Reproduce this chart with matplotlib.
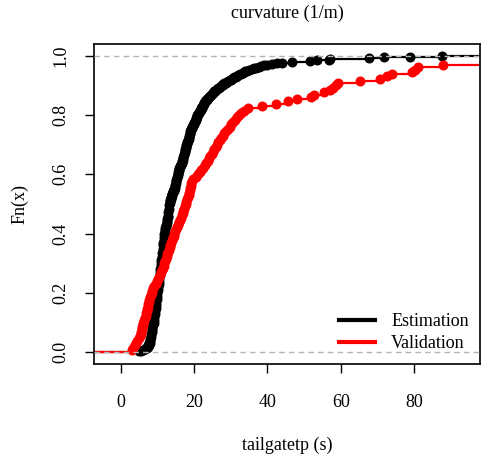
import numpy as np
import matplotlib
matplotlib.use('Agg')
import matplotlib.pyplot as plt
from matplotlib.lines import Line2D

plt.rcParams['font.family'] = ['Liberation Serif', 'DejaVu Serif']

# tailgate times (s)
est_times = [
    4.9, 5.6, 6.2, 6.7,
    6.9, 7.1, 7.3, 7.4, 7.5, 7.6, 7.7, 7.8, 7.9, 8.0,
    8.0, 8.1, 8.1, 8.1, 8.2, 8.2, 8.2, 8.3, 8.3, 8.3, 8.4, 8.4, 8.4,
    8.5, 8.5, 8.5, 8.6, 8.6, 8.6, 8.7, 8.7, 8.7, 8.8, 8.8, 8.9, 9.0,
    9.1, 9.1, 9.1, 9.1, 9.2, 9.2, 9.2, 9.2, 9.3, 9.3, 9.3, 9.3,
    9.4, 9.4, 9.4, 9.4, 9.5, 9.5, 9.5, 9.5, 9.6, 9.6, 9.6, 9.6,
    9.7, 9.7, 9.7, 9.7, 9.8, 9.8, 9.8, 9.8, 9.9, 9.9, 9.9, 9.9,
    10.0, 10.0, 10.0, 10.0, 10.1, 10.1, 10.1, 10.1,
    10.2, 10.2, 10.2, 10.2, 10.3, 10.3, 10.3, 10.3, 10.4, 10.4, 10.4, 10.4,
    10.5, 10.5, 10.5, 10.5, 10.6, 10.6, 10.6, 10.6, 10.7, 10.7, 10.7, 10.7,
    10.8, 10.8, 10.8, 10.8,
    10.9, 10.9, 10.9, 10.9, 11.0, 11.0, 11.0, 11.0, 11.1, 11.1, 11.1, 11.1,
    11.2, 11.2, 11.2, 11.2, 11.2, 11.3, 11.3, 11.3, 11.3, 11.3,
    11.4, 11.4, 11.4, 11.4, 11.4, 11.5, 11.5, 11.5, 11.5, 11.5,
    11.6, 11.6, 11.6, 11.6, 11.7, 11.7, 11.7, 11.7, 11.8, 11.8, 11.8, 11.8,
    11.9, 11.9, 11.9, 12.0, 12.0, 12.0, 12.1, 12.1, 12.1, 12.2, 12.2, 12.2,
    12.3, 12.3, 12.4, 12.4, 12.5, 12.5, 12.6, 12.6, 12.6, 12.7, 12.7, 12.7,
    12.8, 12.8, 12.9, 12.9,
    13.0, 13.0, 13.0, 13.0, 13.0, 13.1, 13.1, 13.1, 13.1,
    13.2, 13.2, 13.2, 13.2, 13.2, 13.3, 13.3, 13.3, 13.3,
    13.4, 13.4, 13.5, 13.6, 13.6, 13.7, 13.8, 13.8, 13.9, 14.0, 14.0,
    14.1, 14.2, 14.2, 14.3, 14.4, 14.5, 14.6,
    14.7, 14.7, 14.8, 14.8, 14.9, 14.9, 15.0, 15.0, 15.0, 15.1, 15.1, 15.2, 15.2,
    15.3, 15.3, 15.4, 15.4, 15.5, 15.5, 15.6, 15.6, 15.7, 15.7, 15.8, 15.8,
    15.9, 15.9, 16.0, 16.0, 16.1, 16.2, 16.3, 16.4, 16.5, 16.6, 16.7,
    16.8, 16.8, 16.9, 16.9, 17.0, 17.0, 17.1, 17.1, 17.2, 17.2, 17.3, 17.3,
    17.4, 17.4, 17.5, 17.5,
    17.6, 17.6, 17.7, 17.7, 17.8, 17.9, 17.9, 18.0, 18.0, 18.1, 18.2, 18.2,
    18.3, 18.4, 18.4, 18.5,
    18.6, 18.6, 18.7, 18.7, 18.8, 18.8, 18.9, 18.9, 19.0, 19.0, 19.0,
    19.1, 19.2, 19.3, 19.4, 19.5, 19.6, 19.7, 19.8, 19.9, 20.0,
    20.1, 20.2, 20.3, 20.4, 20.5, 20.5, 20.6, 20.7, 20.7, 20.8,
    20.9, 21.0, 21.1, 21.3, 21.4, 21.5, 21.6, 21.8, 21.9, 22.0, 22.1,
    22.2, 22.3, 22.4, 22.5, 22.6, 22.7, 22.8, 22.9, 23.0, 23.2,
    23.4, 23.6, 23.8, 24.0, 24.2, 24.4, 24.6, 24.8, 25.0, 25.1, 25.3, 25.4,
    25.7, 26.0, 26.2, 26.5, 26.8, 27.0, 27.3, 27.5, 27.8, 28.0,
    28.3, 28.7, 29.0, 29.3, 29.7, 30.0, 30.3, 30.7, 31.0,
    31.4, 31.8, 32.1, 32.5, 32.9, 33.3, 33.6, 34.0, 34.4,
    35.0, 35.7, 36.3, 37.0, 37.6, 38.3, 39.0,
    40.0, 41.3, 42.6, 44.0, 46.7, 51.7, 53.5, 56.7, 57.2,
    67.6, 71.7, 79.0, 87.6,
]

val_times = [
    3.1, 3.4, 3.8, 4.2, 4.5, 4.9, 5.2, 5.4, 5.6, 5.8,
    5.9, 6.0, 6.2, 6.4, 6.6, 6.8, 7.0, 7.1, 7.2, 7.3,
    7.5, 7.6, 7.8, 8.0, 8.2, 8.4, 8.6, 8.9, 9.2, 9.5,
    9.8, 10.1, 10.5, 10.8, 11.0, 11.3, 11.5, 11.7, 11.9, 12.1,
    12.3, 12.5, 12.7, 12.9, 13.1, 13.3, 13.5, 13.7, 13.9, 14.2,
    14.4, 14.6, 14.9, 15.1, 15.4, 15.6, 15.9, 16.2, 16.4, 16.7,
    16.9, 17.1, 17.3, 17.5, 17.7, 17.9, 18.1, 18.3, 18.5, 18.6,
    18.8, 18.9, 19.1, 19.2, 19.4, 19.7, 20.5, 21.2, 21.6, 21.9,
    22.4, 22.9, 23.3, 23.7, 24.1, 24.4, 24.8, 25.1, 25.5, 25.9,
    26.3, 26.6, 27.0, 27.4, 27.9, 28.3, 28.8, 29.2, 29.7, 30.2,
    30.7, 31.2, 31.7, 32.2, 32.7, 33.5, 34.8, 38.5, 42.4, 45.5,
    48.1, 52.0, 52.8, 55.5, 57.0, 58.0, 58.8, 59.3, 65.3, 70.6,
    72.5, 73.9, 79.4, 80.3, 81.2, 88.0,
    104.3, 118.7, 133.2, 160.5,
]

x_ticks = [0, 20, 40, 60, 80]
y_ticks = [0.0, 0.2, 0.4, 0.6, 0.8, 1.0]


def ecdf(values):
    xs, counts = np.unique(values, return_counts=True)
    ys = np.cumsum(counts) / len(values)
    return xs, ys


def draw_ecdf(ax, values, color):
    xs, ys = ecdf(values)
    lefts = np.concatenate([[-1000], xs])
    rights = np.concatenate([xs, [1000]])
    levels = np.concatenate([[0], ys])
    ax.hlines(levels, lefts, rights, colors=color, lw=1.6, zorder=2)
    ax.plot(xs, ys, 'o', color=color, ms=7.2, mew=0, zorder=3)


fig = plt.figure(figsize=(4.87, 4.57), dpi=100)
ax = fig.add_axes([94 / 487, 1 - 364 / 457, 386 / 487, 320 / 457])

draw_ecdf(ax, est_times, 'black')
draw_ecdf(ax, val_times, 'red')

for lev in (0, 1):
    ax.axhline(lev, color='#b3b3b3', ls=(0, (4, 3)), lw=1, zorder=5)

ax.set_xlim(-7.3, 98.0)
ax.set_ylim(-0.04, 1.04)
ax.set_xticks(x_ticks)
ax.set_yticks(y_ticks)
ax.set_yticklabels(['%.1f' % t for t in y_ticks], rotation=90, va='center')
ax.tick_params(direction='out', length=6.5, width=1, labelsize=13)
ax.tick_params(axis='x', pad=15)
ax.tick_params(axis='y', pad=11)
for sp in ax.spines.values():
    sp.set_linewidth(1.2)

ax.text(0.5, 1.095, 'curvature (1/m)', transform=ax.transAxes,
        ha='center', va='center', fontsize=13)
ax.set_xlabel('tailgatetp (s)', fontsize=13, va='center')
ax.xaxis.set_label_coords(0.5, -0.253)
ax.set_ylabel('Fn(x)', fontsize=13, va='center')
ax.yaxis.set_label_coords(-0.192, 0.5)

handles = [Line2D([], [], color='black', lw=3),
           Line2D([], [], color='red', lw=3)]
ax.legend(handles, ['Estimation', 'Validation'], loc='lower right',
          bbox_to_anchor=(0.99, 0.015), frameon=False, fontsize=13,
          handlelength=2.0, handletextpad=0.9, labelspacing=0.25,
          borderaxespad=0)

fig.savefig('out.png', dpi=100)
